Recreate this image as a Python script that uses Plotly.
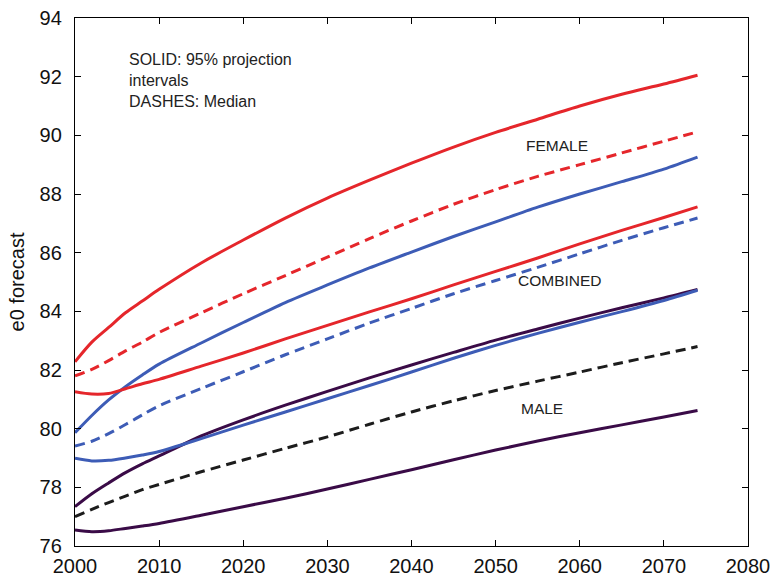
import plotly.graph_objects as go

years = [2000, 2002, 2004, 2006, 2008, 2010, 2015, 2020, 2025, 2030, 2035,
         2040, 2045, 2050, 2055, 2060, 2065, 2070, 2074]

female_upper = [82.28, 82.95, 83.45, 83.95, 84.35, 84.75, 85.65, 86.43, 87.18, 87.86, 88.47,
                89.05, 89.6, 90.1, 90.55, 91.0, 91.4, 91.75, 92.05]
female_median = [81.8, 82.02, 82.32, 82.65, 82.95, 83.28, 83.95, 84.6, 85.22, 85.85, 86.48,
                 87.08, 87.65, 88.15, 88.6, 89.0, 89.4, 89.8, 90.12]
female_lower = [81.26, 81.18, 81.2, 81.36, 81.53, 81.68, 82.13, 82.58, 83.06, 83.52, 83.98,
                84.43, 84.9, 85.36, 85.82, 86.3, 86.76, 87.2, 87.56]

combined_upper = [79.86, 80.45, 80.98, 81.43, 81.83, 82.2, 82.92, 83.62, 84.3, 84.9, 85.48,
                  86.02, 86.55, 87.05, 87.55, 88.0, 88.42, 88.85, 89.26]
combined_median = [79.41, 79.57, 79.83, 80.14, 80.47, 80.78, 81.37, 81.94, 82.52, 83.06, 83.6,
                   84.1, 84.6, 85.05, 85.5, 85.96, 86.42, 86.85, 87.18]
combined_lower = [78.99, 78.9, 78.92, 79.0, 79.1, 79.22, 79.66, 80.12, 80.57, 81.02, 81.47,
                  81.93, 82.4, 82.84, 83.25, 83.63, 83.99, 84.37, 84.72]

male_upper = [77.34, 77.78, 78.15, 78.5, 78.8, 79.07, 79.75, 80.3, 80.8, 81.27, 81.73,
              82.17, 82.6, 83.02, 83.4, 83.77, 84.12, 84.46, 84.75]
male_median = [77.0, 77.25, 77.48, 77.7, 77.92, 78.1, 78.53, 78.93, 79.33, 79.72, 80.15,
               80.57, 80.95, 81.3, 81.62, 81.93, 82.25, 82.55, 82.8]
male_lower = [76.55, 76.49, 76.52, 76.6, 76.68, 76.77, 77.05, 77.34, 77.63, 77.94, 78.27,
              78.6, 78.94, 79.27, 79.58, 79.86, 80.13, 80.4, 80.62]

x_ticks = [2000, 2010, 2020, 2030, 2040, 2050, 2060, 2070, 2080]
y_ticks = [76, 78, 80, 82, 84, 86, 88, 90, 92, 94]

RED = "#e5262b"
BLUE = "#3d5cb6"
PURPLE = "#3a0b47"
BLACK = "#1c1c1c"
DASH = "10px,6px"

series = [
    (male_lower, PURPLE, "solid"),
    (male_upper, PURPLE, "solid"),
    (male_median, BLACK, DASH),
    (combined_lower, BLUE, "solid"),
    (combined_upper, BLUE, "solid"),
    (combined_median, BLUE, DASH),
    (female_lower, RED, "solid"),
    (female_upper, RED, "solid"),
    (female_median, RED, DASH),
]

fig = go.Figure()
for vals, col, dash in series:
    fig.add_trace(go.Scatter(x=years, y=vals, mode="lines",
                             line=dict(color=col, width=3, dash=dash, shape="spline", smoothing=0.8),
                             showlegend=False, hoverinfo="skip"))

FONT = "Liberation Sans, Arial, sans-serif"
axis_common = dict(showline=True, linecolor="black", linewidth=1.3, mirror="ticks",
                   ticks="inside", ticklen=6, tickcolor="black", tickwidth=1.3,
                   showgrid=False, zeroline=False, automargin=False,
                   ticklabeloverflow="allow",
                   tickfont=dict(family=FONT, size=20, color="#111"))

fig.update_xaxes(range=[2000, 2080], tickvals=x_ticks, ticktext=[str(v) for v in x_ticks],
                 ticklabelstandoff=2, **axis_common)
fig.update_yaxes(range=[76, 94], tickvals=y_ticks, ticktext=[str(v) for v in y_ticks],
                 ticklabelstandoff=8,
                 title=dict(text="e0 forecast", standoff=9,
                            font=dict(family=FONT, size=20, color="#111")),
                 **axis_common)

lab_font = dict(family=FONT, size=15.5, color="#222")
fig.add_annotation(x=2006.15, y=92.95, xref="x", yref="y", xanchor="left", yanchor="top",
                   align="left", showarrow=False,
                   text="SOLID: 95% projection<br>intervals<br>DASHES: Median",
                   font=dict(family=FONT, size=16, color="#222"))
fig.add_annotation(x=2057.3, y=89.65, xref="x", yref="y", text="FEMALE", showarrow=False, font=lab_font)
fig.add_annotation(x=2057.7, y=85.05, xref="x", yref="y", text="COMBINED", showarrow=False, font=lab_font)
fig.add_annotation(x=2055.5, y=80.68, xref="x", yref="y", text="MALE", showarrow=False, font=lab_font)

fig.update_layout(width=771, height=577, margin=dict(l=75, r=23, t=18, b=31),
                  plot_bgcolor="white", paper_bgcolor="white")

# remove the default 8px page margin so the figure fills the 771x577 window exactly
fig.write_html("out.html",
               config={"displayModeBar": False},
               post_script="document.body.style.margin='0';"
                           "document.documentElement.style.overflow='hidden';")
